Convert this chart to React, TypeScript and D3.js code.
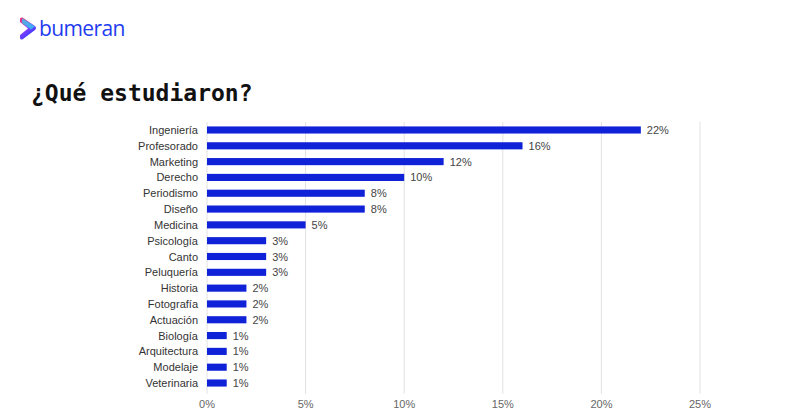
import * as d3 from 'd3';

const categories = [
  'Ingeniería', 'Profesorado', 'Marketing', 'Derecho', 'Periodismo', 'Diseño',
  'Medicina', 'Psicología', 'Canto', 'Peluquería', 'Historia', 'Fotografía',
  'Actuación', 'Biología', 'Arquitectura', 'Modelaje', 'Veterinaria',
];
const values = [22, 16, 12, 10, 8, 8, 5, 3, 3, 3, 2, 2, 2, 1, 1, 1, 1];
const ticks = [0, 5, 10, 15, 20, 25];

const W = 790;
const H = 416;
const BLUE = '#0f22d8';
const FONT = '"Liberation Sans", Arial, sans-serif';

export default function App() {
  const x = d3.scaleLinear().domain([0, 25]).range([207, 700]);
  const y = d3.scaleBand().domain(categories).range([122, 391]).paddingInner(0.55).paddingOuter(0.28);

  return (
    <svg
      width={W}
      height={H}
      viewBox={`0 0 ${W} ${H}`}
      style={{ position: 'absolute', left: 0, top: 0, background: '#fff' }}
    >
      <defs>
        <linearGradient id="chev" x1="0" y1="0" x2="0.6" y2="1">
          <stop offset="0%" stopColor="#ff2d6f" />
          <stop offset="55%" stopColor="#8a3cff" />
          <stop offset="100%" stopColor="#1e3cff" />
        </linearGradient>
      </defs>

      {/* logo */}
      <path
        d="M20,19 Q20,17 22.5,17.5 L35,26 Q37,28 35,30 L23,39 Q20,40.5 20,37.5 L20,35 L28,28.5 L20,22 Z"
        fill="url(#chev)"
      />
      <path d="M22,18 L35,26.5 L31,29.5 L22,23 Z" fill="#2fd3ee" opacity={0.75} />
      <text x={39} y={36} fontFamily='"Open Sans", sans-serif' fontWeight={500} fontSize={21} fill="#1e3cf0" letterSpacing={-0.6}>
        bumeran
      </text>

      {/* title */}
      <text
        x={31}
        y={101}
        fontFamily='"DejaVu Sans Mono", monospace'
        fontWeight="bold"
        fontSize={23}
        fill="#111"
      >
        ¿Qué estudiaron?
      </text>

      {/* gridlines */}
      {ticks.map(t => (
        <line key={t} x1={x(t)} x2={x(t)} y1={122} y2={394} stroke="#e2e2e2" strokeWidth={1} />
      ))}

      {/* bars */}
      {categories.map((c, i) => {
        const by = y(c)!;
        const cy = by + y.bandwidth() / 2;
        return (
          <g key={c}>
            <text x={198} y={cy} textAnchor="end" dominantBaseline="central" fontFamily={FONT} fontSize={11} fill="#333">
              {c}
            </text>
            <rect x={x(0)} y={by} width={x(values[i]) - x(0)} height={y.bandwidth()} fill={BLUE} />
            <text x={x(values[i]) + 6} y={cy} dominantBaseline="central" fontFamily={FONT} fontSize={11} fill="#444">
              {values[i]}%
            </text>
          </g>
        );
      })}

      {/* axis labels */}
      {ticks.map(t => (
        <text key={t} x={x(t)} y={404} textAnchor="middle" dominantBaseline="central" fontFamily={FONT} fontSize={11} fill="#666">
          {t}%
        </text>
      ))}
    </svg>
  );
}
